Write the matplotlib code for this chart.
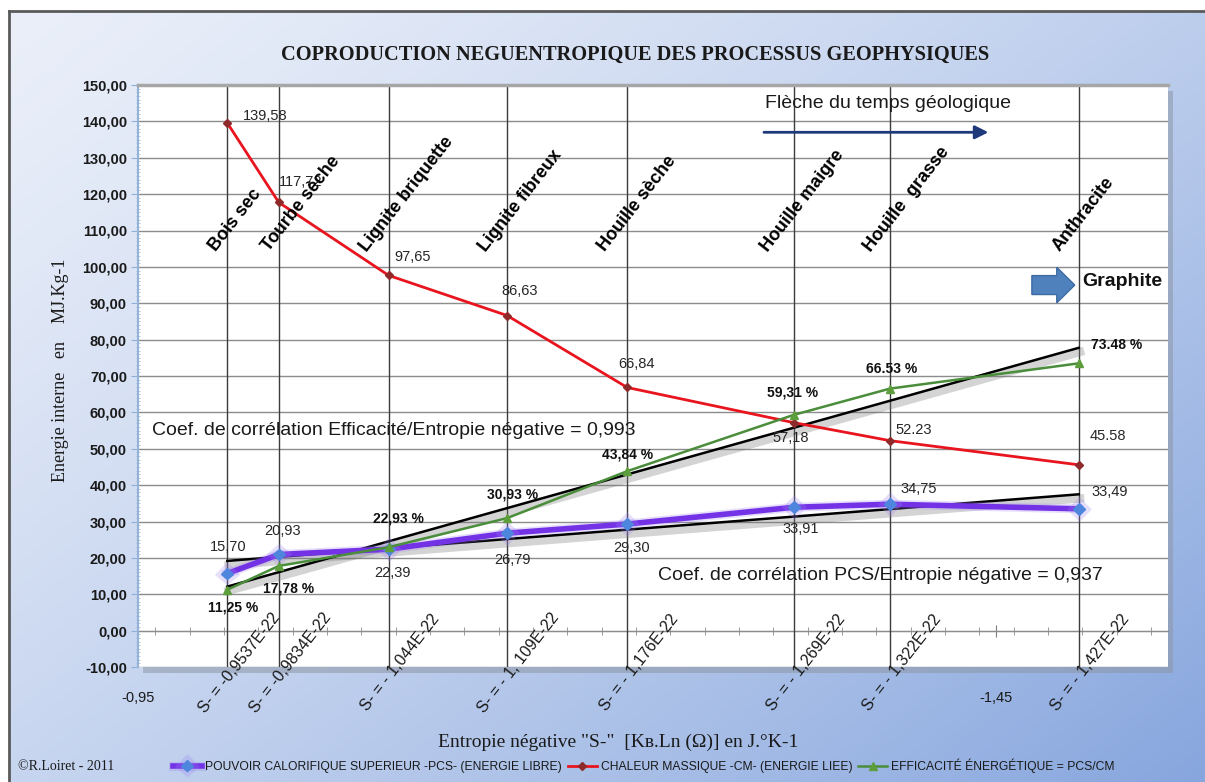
import numpy as np
import matplotlib
matplotlib.use("Agg")
import matplotlib.pyplot as plt
import matplotlib.patheffects as pe
from matplotlib.ticker import MultipleLocator, FixedLocator, FuncFormatter
from matplotlib.patches import Rectangle, FancyArrow

plt.rcParams['font.family'] = ['Liberation Sans', 'DejaVu Sans']
SERIF = ['Liberation Serif', 'DejaVu Serif']

# --- data ---
coals = ["Bois sec", "Tourbe sèche", "Lignite briquette", "Lignite fibreux",
         "Houille sèche", "Houille maigre", "Houille  grasse", "Anthracite"]
x_pos = [-1.002, -1.032, -1.096, -1.165, -1.235, -1.332, -1.388, -1.498]
s_labels = ["S- = -0,9537E-22", "S- = -0,9834E-22", "S- = - 1,044E-22",
            "S- = - 1, 109E-22", "S- = - 1,176E-22", "S- = - 1,269E-22",
            "S- = - 1,322E-22", "S- = - 1,427E-22"]
pcs = [15.70, 20.93, 22.39, 26.79, 29.30, 33.91, 34.75, 33.49]
cm = [139.58, 117.72, 97.65, 86.63, 66.84, 57.18, 52.23, 45.58]
eff = [11.25, 17.78, 22.93, 30.93, 43.84, 59.31, 66.53, 73.48]
pcs_txt = ["15,70", "20,93", "22,39", "26,79", "29,30", "33,91", "34,75", "33,49"]
cm_txt = ["139,58", "117,72", "97,65", "86,63", "66,84", "57,18", "52.23", "45.58"]
eff_txt = ["11,25 %", "17,78 %", "22,93 %", "30,93 %", "43,84 %", "59,31 %",
           "66.53 %", "73.48 %"]

# label offsets (points) relative to their points
cm_off = [(27, 5), (16, 15), (17, 13), (9, 18), (7, 17), (-2, -11), (17, 8), (21, 21)]
pcs_off = [(1, 19), (3, 17), (3, -17), (4, -19), (3, -17), (5, -16), (21, 11), (22, 12)]
eff_off = [(4, -13), (7, -16), (7, 21), (4, 17), (0, 12), (-1, 16), (1, 14), (27, 13)]
name_dx = [-8, -7, -16, -15, -16, -19, -14, -14]

W, H = 1205, 782
fig = plt.figure(figsize=(W / 100, H / 100), dpi=100)
fig.patch.set_facecolor('white')

# gradient background of the chart area
bg = fig.add_axes([9 / W, 0, 1 - 9 / W, 1 - 11 / H], zorder=-10)
u = np.linspace(0, 1, 400)[None, :]
v = np.linspace(0, 1, 300)[:, None]
t = np.clip(0.55 * u + 0.45 * v, 0, 1) ** 1.3
c0 = np.array([234, 239, 249]) / 255
c1 = np.array([135, 166, 222]) / 255
img = c0[None, None, :] * (1 - t[..., None]) + c1[None, None, :] * t[..., None]
bg.imshow(img, aspect='auto', extent=[0, 1, 0, 1], origin='upper')
bg.set_xticks([]); bg.set_yticks([])
for s in ['right', 'bottom']:
    bg.spines[s].set_visible(False)
for s in ['left', 'top']:
    bg.spines[s].set_color('#5a5a5a')
    bg.spines[s].set_linewidth(2)

# plot area + shadow
L, B, AW, AH = 138 / W, 1 - 667 / H, 1030 / W, 582 / H
fig.patches.append(Rectangle((L + 5 / W, B - 6 / H), AW, AH, transform=fig.transFigure,
                             facecolor='#8d97a6', alpha=0.55, zorder=-5))
ax = fig.add_axes([L, B, AW, AH])
ax.set_facecolor('white')
ax.set_xlim(-0.95, -1.55)
ax.set_ylim(-10, 150)

ax.set_yticks(np.arange(-10, 151, 10))
ax.yaxis.set_major_formatter(FuncFormatter(lambda val, p: f"{val:.2f}".replace('.', ',')))
ax.yaxis.set_minor_locator(MultipleLocator(1))
ax.tick_params(axis='y', which='major', length=5, color='#8eb1dc', labelsize=10.5,
               labelcolor='#1a1a1a', pad=3)
ax.tick_params(axis='y', which='minor', length=3, color='#9dbde3', direction='inout')
for lab in ax.get_yticklabels():
    lab.set_fontweight('bold')
ax.yaxis.grid(True, color='#8c8c8c', lw=1)
ax.set_axisbelow(True)

ax.set_xticks([-0.95, -1.45])
ax.set_xticklabels(["-0,95", "-1,45"])
ax.tick_params(axis='x', length=0, pad=17, labelsize=10.5, labelcolor='#1a1a1a')

for s in ['right', 'bottom']:
    ax.spines[s].set_visible(False)
ax.spines['left'].set_color('#95b3d7')
ax.spines['left'].set_linewidth(1.5)
ax.spines['top'].set_color('#a6a6a6')
ax.spines['top'].set_linewidth(2.5)

# horizontal axis line at y = 0 with its tick marks
sec = ax.secondary_xaxis(10 / 160)
sec.xaxis.set_major_locator(FixedLocator([-0.95, -1.45]))
sec.xaxis.set_minor_locator(MultipleLocator(0.02))
sec.set_xticklabels([])
sec.tick_params(which='major', direction='inout', length=9, color='#7f7f7f')
sec.tick_params(which='minor', direction='inout', length=6, color='#8c8c8c')
sec.spines['bottom'].set_color('#7f7f7f')

ax.vlines(x_pos, -10, 150, colors='#3c3c3c', lw=1, zorder=1)

# trend lines
shadow = [pe.SimpleLineShadow(offset=(1, -3), shadow_color='0.45', alpha=0.3, linewidth=6),
          pe.Normal()]
xs = np.array(x_pos)
for ys in (pcs, eff):
    a, b = np.polyfit(xs, ys, 1)
    ax.plot([xs[0], xs[-1]], [a * xs[0] + b, a * xs[-1] + b], color='black', lw=1.8,
            zorder=4, path_effects=shadow)

l_pcs, = ax.plot(x_pos, pcs, color='#7432e6', lw=4, marker='D', ms=6,
                 mfc='#4f86dd', mec='#4f86dd', zorder=5,
                 path_effects=[pe.Stroke(linewidth=6.5, foreground=(0.62, 0.5, 0.95, 0.25)),
                               pe.Normal()],
                 label="POUVOIR CALORIFIQUE SUPERIEUR -PCS- (ENERGIE LIBRE)")
l_cm, = ax.plot(x_pos, cm, color='#e8141e', lw=2, marker='D', ms=4.5,
                mfc='#8e2a2a', mec='#8e2a2a', zorder=5,
                label="CHALEUR MASSIQUE -CM- (ENERGIE LIEE)")
l_eff, = ax.plot(x_pos, eff, color='#4a8d3a', lw=1.8, marker='^', ms=6,
                 mfc='#5c9e3c', mec='#5c9e3c', zorder=5,
                 label="EFFICACITÉ ÉNERGÉTIQUE = PCS/CM")

for xv, yv, txt, off in zip(x_pos, cm, cm_txt, cm_off):
    ax.annotate(txt, (xv, yv), xytext=off, textcoords='offset points', ha='center',
                va='center', fontsize=10.5, color='#262626', zorder=7)
for xv, yv, txt, off in zip(x_pos, pcs, pcs_txt, pcs_off):
    ax.annotate(txt, (xv, yv), xytext=off, textcoords='offset points', ha='center',
                va='center', fontsize=10.5, color='#262626', zorder=7)
for xv, yv, txt, off in zip(x_pos, eff, eff_txt, eff_off):
    ax.annotate(txt, (xv, yv), xytext=off, textcoords='offset points', ha='center',
                va='center', fontsize=10, fontweight='bold', color='#111111', zorder=7)

# coal names, rotated
for xv, name, dx in zip(x_pos, coals, name_dx):
    ax.annotate(name, (xv, 104), xytext=(dx, 0), textcoords='offset points',
                rotation=52, rotation_mode='anchor', ha='left', va='baseline',
                fontsize=13, fontweight='bold', color='black', zorder=8)

# S- labels under the 0 line
for xv, txt in zip(x_pos, s_labels):
    ax.annotate(txt, (xv, 0), xytext=(8.5, -23), textcoords='offset points',
                rotation=52, rotation_mode='anchor', ha='center', va='center',
                fontsize=11.5, color='#1a1a1a', annotation_clip=False, zorder=8)

ax.text(0.0136, 0.407, "Coef. de corrélation Efficacité/Entropie négative = 0,993",
        transform=ax.transAxes, ha='left', va='center', fontsize=14, color='#1a1a1a')
ax.text(0.505, 0.158, "Coef. de corrélation PCS/Entropie négative = 0,937",
        transform=ax.transAxes, ha='left', va='center', fontsize=14, color='#1a1a1a')
ax.text(0.728, 0.969, "Flèche du temps géologique", transform=ax.transAxes,
        ha='center', va='center', fontsize=14, color='#1a1a1a')
ax.annotate('', xy=(-1.447, 137), xytext=(-1.313, 137),
            arrowprops=dict(arrowstyle='-|>', color='#1f3a7a', lw=2, mutation_scale=20))
ax.add_patch(FancyArrow(-1.4707, 95, -0.0145, 0, width=5.2, head_width=9.8,
                        head_length=0.0105, length_includes_head=False,
                        facecolor='#4f81bd', edgecolor='#3d6ba3', lw=1, zorder=6))
ax.text(0.917, 0.662, "Graphite", transform=ax.transAxes, ha='left', va='center',
        fontsize=14, fontweight='bold', color='#111111')

# titles
fig.text(0.527, 0.930, "COPRODUCTION NEGUENTROPIQUE DES PROCESSUS GEOPHYSIQUES",
         ha='center', va='center', family=SERIF, fontsize=14.7, fontweight='bold',
         color='#1a1a1a')
fig.text(0.513, 0.051, 'Entropie négative "S-"  [Kʙ.Ln (Ω)] en J.°K-1', ha='center',
         va='center', family=SERIF, fontsize=14, color='#1a1a1a')
fig.text(0.050, 0.526, "Energie interne   en    MJ.Kg-1", ha='center', va='center',
         rotation=90, family=SERIF, fontsize=13, color='#1a1a1a')
fig.text(18 / W, 1 - 766 / H, "©R.Loiret - 2011", ha='left', va='center', family=SERIF,
         fontsize=10, color='#1a1a1a')

fig.legend(handles=[l_pcs, l_cm, l_eff], loc='center', bbox_to_anchor=(0.534, 0.021),
           ncol=3, frameon=False, fontsize=8.7, handlelength=2.4, handletextpad=0.3,
           columnspacing=0.5, borderaxespad=0, labelcolor='#1a1a1a')

fig.savefig("out.png", dpi=100)
